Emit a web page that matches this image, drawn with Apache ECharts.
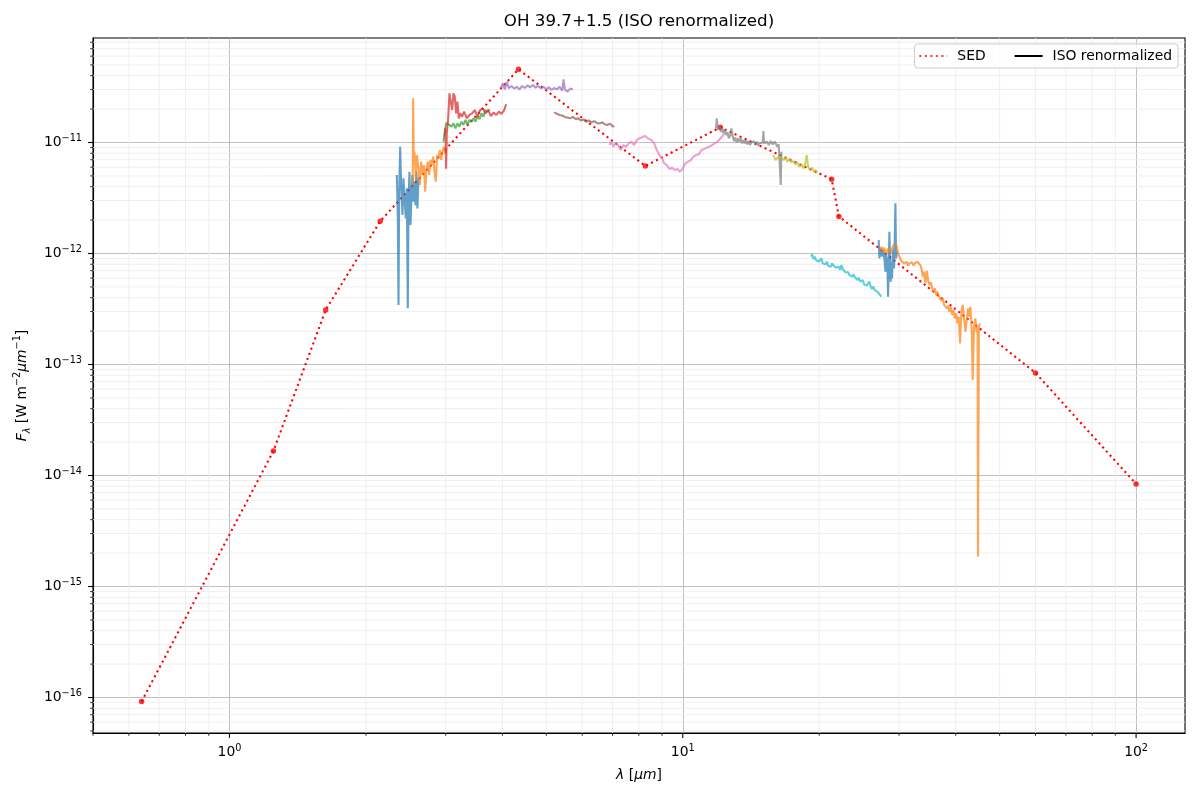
<!DOCTYPE html>
<html><head><meta charset="utf-8">
<script src="https://cdn.jsdelivr.net/npm/echarts@6/dist/echarts.min.js"></script>
<style>html,body{margin:0;padding:0;background:#fff}#c{width:1200px;height:800px}</style>
</head><body><div id="c"></div>
<script>
// ---- SED photometry ----
const sedWave = [0.64, 1.25, 1.63, 2.15, 4.34, 8.27, 12.1, 21.3, 22.1, 60, 100];
const sedFlux = [9.2e-17, 1.66e-14, 3.1e-13, 1.95e-12, 4.57e-11, 6.14e-12, 1.37e-11, 4.67e-12, 2.16e-12, 8.4e-14, 8.4e-15];

// ---- ISO SWS segments [wavelength um, flux] ----
const isoBlue1 = [[2.340,5.10e-12],[2.352,2.07e-12],[2.360,3.44e-13],[2.368,3.37e-12],[2.380,9.17e-12],[2.392,4.14e-12],[2.408,2.22e-12],[2.420,4.75e-12],[2.433,3.14e-12],[2.449,2.07e-12],[2.462,3.87e-12],[2.474,3.21e-13],[2.483,2.93e-12],[2.495,5.46e-12],[2.508,1.81e-12],[2.521,3.37e-12],[2.533,5.10e-12],[2.546,2.93e-12],[2.559,4.44e-12],[2.572,2.73e-12],[2.585,5.46e-12],[2.598,2.55e-12],[2.612,4.75e-12]];
const isoOrange1 = [[2.537,4.14e-12],[2.542,2.50e-11],[2.551,6.27e-12],[2.559,8.27e-12],[2.577,4.75e-12],[2.590,7.72e-12],[2.612,5.85e-12],[2.630,4.14e-12],[2.648,6.72e-12],[2.666,5.10e-12],[2.684,6.27e-12],[2.702,3.61e-12],[2.720,5.85e-12],[2.739,6.72e-12],[2.757,5.10e-12],[2.776,6.96e-12],[2.795,6.27e-12],[2.814,7.46e-12],[2.833,5.46e-12],[2.852,4.44e-12],[2.872,7.72e-12],[2.891,7.20e-12],[2.911,8.56e-12],[2.931,6.96e-12],[2.951,8.27e-12],[2.971,9.17e-12],[2.991,7.99e-12],[3.011,8.50e-12]];
const isoGreen = [[2.966,1.02e-11],[2.985,1.25e-11],[3.006,1.49e-11],[3.026,1.54e-11],[3.057,1.44e-11],[3.089,1.39e-11],[3.120,1.49e-11],[3.151,1.34e-11],[3.184,1.49e-11],[3.216,1.39e-11],[3.249,1.54e-11],[3.282,1.44e-11],[3.316,1.60e-11],[3.350,1.44e-11],[3.384,1.60e-11],[3.419,1.54e-11],[3.454,1.65e-11],[3.489,1.54e-11],[3.525,1.73e-11],[3.561,1.62e-11],[3.597,1.83e-11],[3.634,1.71e-11],[3.671,1.96e-11],[3.709,1.90e-11],[3.747,1.99e-11]];
const isoRed = [[2.985,1.13e-11],[2.996,1.34e-11],[3.005,5.80e-12],[3.016,1.21e-11],[3.037,1.65e-11],[3.057,2.77e-11],[3.078,2.87e-11],[3.099,1.96e-11],[3.120,2.77e-11],[3.141,2.59e-11],[3.162,1.83e-11],[3.184,2.33e-11],[3.205,1.65e-11],[3.227,1.83e-11],[3.260,1.71e-11],[3.293,1.90e-11],[3.338,1.65e-11],[3.384,1.77e-11],[3.430,1.83e-11],[3.477,1.96e-11],[3.525,1.71e-11],[3.573,1.96e-11],[3.622,2.03e-11],[3.671,1.83e-11],[3.722,1.96e-11],[3.773,1.73e-11],[3.824,1.86e-11],[3.877,1.77e-11],[3.930,1.90e-11],[3.981,1.81e-11],[4.036,1.96e-11],[4.077,2.21e-11]];
const isoPurple = [[3.968,3.08e-11],[4.009,3.41e-11],[4.050,3.01e-11],[4.091,3.53e-11],[4.133,3.08e-11],[4.189,3.23e-11],[4.246,3.06e-11],[4.304,3.18e-11],[4.363,3.01e-11],[4.423,3.23e-11],[4.483,3.10e-11],[4.545,3.27e-11],[4.607,3.14e-11],[4.670,3.30e-11],[4.732,3.12e-11],[4.797,3.23e-11],[4.863,3.08e-11],[4.929,3.18e-11],[4.996,3.01e-11],[5.064,3.14e-11],[5.133,2.97e-11],[5.203,3.10e-11],[5.274,3.01e-11],[5.346,3.18e-11],[5.420,2.93e-11],[5.457,3.71e-11],[5.494,3.01e-11],[5.569,2.87e-11],[5.645,3.06e-11],[5.722,3.01e-11]];
const isoBrown = [[5.202,1.87e-11],[5.274,1.82e-11],[5.345,1.77e-11],[5.419,1.75e-11],[5.493,1.70e-11],[5.568,1.68e-11],[5.644,1.65e-11],[5.722,1.70e-11],[5.800,1.63e-11],[5.879,1.65e-11],[5.959,1.58e-11],[6.040,1.61e-11],[6.123,1.54e-11],[6.206,1.58e-11],[6.290,1.52e-11],[6.376,1.56e-11],[6.463,1.50e-11],[6.551,1.48e-11],[6.640,1.52e-11],[6.731,1.46e-11],[6.822,1.44e-11],[6.915,1.48e-11],[7.010,1.39e-11],[7.056,1.42e-11]];
const isoPink = [[6.892,9.49e-12],[6.961,1.02e-11],[7.031,9.17e-12],[7.103,9.83e-12],[7.200,9.49e-12],[7.298,8.56e-12],[7.396,9.49e-12],[7.497,9.17e-12],[7.600,9.83e-12],[7.703,1.02e-11],[7.808,9.49e-12],[7.915,1.05e-11],[8.023,1.09e-11],[8.132,1.11e-11],[8.244,1.15e-11],[8.328,1.17e-11],[8.413,1.08e-11],[8.528,1.05e-11],[8.645,9.83e-12],[8.763,8.56e-12],[8.882,7.71e-12],[9.004,7.19e-12],[9.096,6.48e-12],[9.220,6.26e-12],[9.344,5.77e-12],[9.472,5.93e-12],[9.601,5.65e-12],[9.731,5.77e-12],[9.864,5.46e-12],[9.999,5.85e-12],[10.135,6.48e-12],[10.273,6.71e-12],[10.413,6.95e-12],[10.555,7.45e-12],[10.699,7.71e-12],[10.845,7.82e-12],[10.993,8.56e-12],[11.143,8.73e-12],[11.295,8.98e-12],[11.449,9.17e-12],[11.606,9.49e-12],[11.764,9.83e-12],[11.924,1.02e-11],[12.087,1.08e-11],[12.252,1.15e-11],[12.336,1.19e-11]];
const isoGray = [[11.84,1.34e-11],[11.88,1.65e-11],[11.96,1.30e-11],[12.05,1.42e-11],[12.13,1.25e-11],[12.21,1.34e-11],[12.29,1.21e-11],[12.38,1.32e-11],[12.46,1.17e-11],[12.55,1.24e-11],[12.63,1.09e-11],[12.72,1.15e-11],[12.80,1.34e-11],[12.89,1.13e-11],[12.98,1.03e-11],[13.06,1.11e-11],[13.15,1.00e-11],[13.24,1.09e-11],[13.33,1.02e-11],[13.42,1.09e-11],[13.51,9.83e-12],[13.60,1.05e-11],[13.70,9.83e-12],[13.79,1.05e-11],[13.88,9.62e-12],[13.98,1.03e-11],[14.07,9.49e-12],[14.17,1.00e-11],[14.26,9.62e-12],[14.36,1.03e-11],[14.46,9.49e-12],[14.56,1.02e-11],[14.66,9.36e-12],[14.76,9.83e-12],[14.91,9.62e-12],[15.01,1.00e-11],[15.06,1.27e-11],[15.11,9.83e-12],[15.22,9.49e-12],[15.32,1.02e-11],[15.48,9.49e-12],[15.64,1.03e-11],[15.79,9.62e-12],[15.95,1.02e-11],[16.06,1.05e-11],[16.17,9.17e-12],[16.28,9.62e-12],[16.39,9.36e-12],[16.45,4.14e-12],[16.50,8.27e-12]];
const isoOlive = [[15.85,7.71e-12],[16.01,6.95e-12],[16.17,7.30e-12],[16.33,7.10e-12],[16.50,7.45e-12],[16.67,6.95e-12],[16.84,7.30e-12],[17.01,6.71e-12],[17.19,7.19e-12],[17.36,6.62e-12],[17.54,6.81e-12],[17.72,6.35e-12],[17.90,6.62e-12],[18.08,6.05e-12],[18.27,6.35e-12],[18.45,5.85e-12],[18.64,6.48e-12],[18.77,7.71e-12],[18.90,6.05e-12],[19.09,5.65e-12],[19.29,5.93e-12],[19.48,5.46e-12],[19.68,5.65e-12],[19.75,5.27e-12]];
const isoCyan = [[19.19,9.37e-13],[19.29,9.83e-13],[19.42,8.92e-13],[19.55,9.37e-13],[19.68,8.74e-13],[19.82,9.05e-13],[19.95,8.44e-13],[20.09,8.74e-13],[20.22,9.05e-13],[20.36,8.15e-13],[20.50,8.44e-13],[20.64,7.99e-13],[20.78,8.44e-13],[20.92,7.77e-13],[21.06,7.99e-13],[21.21,7.61e-13],[21.35,8.15e-13],[21.50,7.77e-13],[21.64,7.88e-13],[21.79,7.46e-13],[21.94,7.25e-13],[22.09,7.61e-13],[22.24,7.10e-13],[22.39,7.88e-13],[22.54,7.25e-13],[22.70,6.96e-13],[22.85,6.77e-13],[23.00,6.58e-13],[23.16,6.77e-13],[23.31,6.40e-13],[23.47,6.63e-13],[23.63,6.18e-13],[23.79,6.49e-13],[23.95,6.14e-13],[24.12,5.97e-13],[24.28,5.77e-13],[24.44,6.06e-13],[24.61,5.58e-13],[24.77,5.50e-13],[24.94,5.77e-13],[25.11,5.28e-13],[25.28,5.50e-13],[25.45,5.13e-13],[25.63,5.20e-13],[25.80,5.58e-13],[25.98,5.03e-13],[26.15,4.79e-13],[26.33,5.03e-13],[26.51,4.69e-13],[26.69,4.86e-13],[26.87,4.53e-13],[27.05,4.69e-13],[27.24,4.23e-13],[27.42,4.08e-13]];
const isoBlue2 = [[27.05,1.32e-12],[27.15,9.05e-13],[27.33,1.11e-12],[27.52,9.37e-13],[27.71,1.075e-12],[27.89,8.44e-13],[27.99,6.86e-13],[28.08,1.00e-12],[28.27,8.15e-13],[28.37,4.08e-13],[28.47,7.35e-13],[28.56,1.57e-12],[28.66,9.05e-13],[28.76,5.58e-13],[28.85,8.44e-13],[28.95,5.97e-13],[29.05,9.37e-13],[29.15,1.11e-12],[29.25,7.35e-13],[29.35,1.37e-12],[29.45,2.83e-12],[29.55,9.05e-13],[29.65,1.00e-12],[29.75,1.04e-12]];
const isoOrange2 = [[27.24,1.075e-12],[27.42,1.15e-12],[27.61,1.04e-12],[27.80,1.13e-12],[27.99,1.10e-12],[28.18,1.00e-12],[28.37,1.11e-12],[28.56,1.075e-12],[28.76,1.00e-12],[28.95,1.11e-12],[29.15,1.19e-12],[29.35,1.15e-12],[29.55,1.21e-12],[29.75,1.075e-12],[29.95,9.69e-13],[30.16,9.05e-13],[30.36,8.56e-13],[30.57,8.92e-13],[30.77,8.15e-13],[30.98,7.88e-13],[31.19,8.44e-13],[31.41,7.77e-13],[31.62,8.15e-13],[31.84,7.88e-13],[32.05,8.33e-13],[32.27,7.77e-13],[32.49,8.15e-13],[32.71,7.88e-13],[32.94,8.44e-13],[33.16,8.15e-13],[33.39,7.88e-13],[33.61,7.35e-13],[33.84,6.18e-13],[34.07,6.86e-13],[34.30,5.38e-13],[34.54,6.96e-13],[34.77,5.77e-13],[35.01,5.20e-13],[35.24,5.50e-13],[35.48,4.92e-13],[35.72,4.53e-13],[35.97,4.86e-13],[36.21,4.23e-13],[36.46,4.53e-13],[36.71,4.08e-13],[36.95,4.23e-13],[37.20,3.73e-13],[37.46,3.95e-13],[37.71,3.44e-13],[37.97,3.56e-13],[38.22,3.21e-13],[38.48,3.39e-13],[38.74,2.99e-13],[39.01,3.32e-13],[39.27,2.79e-13],[39.54,3.10e-13],[39.81,2.60e-13],[40.08,2.89e-13],[40.35,2.35e-13],[40.62,2.70e-13],[40.90,1.55e-13],[41.17,2.99e-13],[41.45,3.44e-13],[41.74,2.60e-13],[42.02,1.98e-13],[42.30,2.52e-13],[42.59,3.21e-13],[42.85,2.70e-13],[43.10,3.30e-13],[43.40,2.05e-13],[43.60,7.25e-14],[43.90,2.18e-13],[44.20,2.60e-13],[44.45,1.98e-13],[44.70,2.18e-13],[44.80,1.86e-15],[45.00,2.05e-13],[45.15,2.35e-13]];

const isoSegments = [isoBlue1, isoOrange1, isoGreen, isoRed, isoPurple, isoBrown, isoPink, isoGray, isoOlive, isoCyan, isoBlue2, isoOrange2];
const isoColors = ['#1f77b4','#ff7f0e','#2ca02c','#d62728','#9467bd','#8c564b','#e377c2','#7f7f7f','#bcbd22','#17becf','#1f77b4','#ff7f0e'];

// ---- axis ticks ----
const xMajorTicks = [1, 10, 100];
const yMajorTicks = [1e-16, 1e-15, 1e-14, 1e-13, 1e-12, 1e-11];
const X_MIN = 0.5, X_MAX = 128.2, Y_MIN = 4.79e-17, Y_MAX = 8.74e-11;

const xMinorTicks = [];
[0.1, 1, 10].forEach(d => { for (let k = 2; k <= 9; k++) { const v = k * d; if (v >= X_MIN - 1e-9 && v <= X_MAX) xMinorTicks.push(v); } });
const yMinorTicks = [];
for (let e = -17; e <= -11; e++) { for (let k = 2; k <= 9; k++) { const v = k * Math.pow(10, e); if (v >= Y_MIN && v <= Y_MAX) yMinorTicks.push(v); } }

const FONT = 'DejaVu Sans';
const MINUS = '\u2212';

function powLabel(value) {
  const e = Math.log10(value);
  const r = Math.round(e);
  if (Math.abs(e - r) > 1e-6) return '';
  const s = r < 0 ? MINUS + String(-r) : String(r);
  return '{b|10}{s|' + s + '}';
}
const labelRich = {
  b: { fontFamily: FONT, fontSize: 13.9, lineHeight: 18, color: '#000' },
  s: { fontFamily: FONT, fontSize: 9.7, lineHeight: 10.6, verticalAlign: 'top', color: '#000' }
};

function renderXTick(params, api) {
  const cs = params.coordSys;
  const v = api.value(0);
  const major = api.value(2) === 1;
  const p = api.coord([v, Y_MIN]);
  const x = p[0], top = cs.y, bottom = cs.y + cs.height;
  const ch = [];
  if (!major && x > cs.x + 1.5 && x < cs.x + cs.width - 1.5) {
    ch.push({ type: 'line', shape: { x1: x, y1: top, x2: x, y2: bottom }, style: { stroke: '#ebebeb', lineWidth: 0.8 } });
  }
  ch.push({ type: 'line', shape: { x1: x, y1: bottom, x2: x, y2: bottom + (major ? 4.9 : 2.8) }, style: { stroke: '#000', lineWidth: major ? 1.1 : 0.8 } });
  return { type: 'group', children: ch };
}
function renderYTick(params, api) {
  const cs = params.coordSys;
  const v = api.value(1);
  const major = api.value(2) === 1;
  const p = api.coord([X_MIN, v]);
  const y = p[1], left = cs.x, right = cs.x + cs.width;
  const ch = [];
  if (!major && y > cs.y + 1.5 && y < cs.y + cs.height - 1.5) {
    ch.push({ type: 'line', shape: { x1: left, y1: y, x2: right, y2: y }, style: { stroke: '#ebebeb', lineWidth: 0.8 } });
  }
  ch.push({ type: 'line', shape: { x1: left, y1: y, x2: left - (major ? 4.9 : 2.8), y2: y }, style: { stroke: '#000', lineWidth: major ? 1.1 : 0.8 } });
  return { type: 'group', children: ch };
}

const xTickData = xMinorTicks.map(v => [v, Y_MIN, 0]).concat(xMajorTicks.map(v => [v, Y_MIN, 1]));
const yTickData = yMinorTicks.map(v => [X_MIN, v, 0]).concat(yMajorTicks.map(v => [X_MIN, v, 1]));

const sedData = sedWave.map((w, i) => [w, sedFlux[i]]);

const series = [
  { type: 'custom', name: 'xticks', renderItem: renderXTick, data: xTickData, dimensions: ['x', 'y', 'major'], encode: { x: 0, y: 1 }, z: 1, silent: true, clip: false },
  { type: 'custom', name: 'yticks', renderItem: renderYTick, data: yTickData, dimensions: ['x', 'y', 'major'], encode: { x: 0, y: 1 }, z: 1, silent: true, clip: false },
  { type: 'line', name: 'SED', data: sedData, symbol: 'none', z: 2, silent: true,
    lineStyle: { color: '#ff0000', width: 2.08, type: [2.08, 3.43], cap: 'butt' }, itemStyle: { color: '#ff0000' } },
  { type: 'scatter', name: 'SED points', data: sedData, symbol: 'circle', symbolSize: 5.5, z: 2, silent: true,
    itemStyle: { color: '#ff0000' } },
  { type: 'line', name: 'ISO renormalized', data: [], symbol: 'none',
    lineStyle: { color: '#000000', width: 1.5 }, itemStyle: { color: '#000000' } }
];
isoSegments.forEach((seg, i) => {
  series.push({ type: 'line', name: 'iso' + i, data: seg, symbol: 'none', z: 3, silent: true,
    lineStyle: { color: isoColors[i], width: 2.08, opacity: 0.7 }, itemStyle: { color: isoColors[i] } });
});

const chart = echarts.init(document.getElementById('c'), null, { renderer: 'canvas' });
chart.setOption({
  animation: false,
  backgroundColor: '#ffffff',
  textStyle: { fontFamily: FONT },
  title: {
    text: 'OH 39.7+1.5 (ISO renormalized)', left: 639, top: 12, textAlign: 'center', padding: 0,
    textStyle: { fontFamily: FONT, fontSize: 16.7, fontWeight: 'normal', color: '#000', lineHeight: 20 }
  },
  legend: {
    data: [
      { name: 'SED', itemStyle: { opacity: 0 }, lineStyle: { width: 1.4 } },
      { name: 'ISO renormalized', itemStyle: { opacity: 0 } }
    ],
    right: 22, top: 44, orient: 'horizontal', selectedMode: false,
    itemWidth: 28, itemHeight: 10, itemGap: 28, padding: [4, 6, 4, 4],
    itemStyle: { opacity: 0 },
    backgroundColor: 'rgba(255,255,255,0.8)', borderColor: '#cccccc', borderWidth: 1, borderRadius: 3,
    textStyle: { fontFamily: FONT, fontSize: 13.9, color: '#000', lineHeight: 16, padding: [0, 0, 0, 5] }
  },
  grid: { left: 93, right: 15, top: 38, bottom: 67, show: true, borderColor: '#000', borderWidth: 1.1, backgroundColor: 'transparent', containLabel: false },
  xAxis: {
    type: 'log', logBase: 10, min: X_MIN, max: X_MAX,
    name: '{i|λ} [{i|μm}]', nameLocation: 'middle', nameGap: 32,
    nameTextStyle: { fontFamily: FONT, fontSize: 13.9, color: '#000', lineHeight: 20,
      rich: { i: { fontFamily: FONT, fontSize: 13.9, fontStyle: 'italic', color: '#000', lineHeight: 20 } } },
    axisLine: { show: true, lineStyle: { color: '#000', width: 1.1 } },
    axisTick: { show: false },
    axisLabel: { formatter: powLabel, margin: 10, rich: labelRich },
    splitLine: { show: true, showMinLine: false, showMaxLine: false, lineStyle: { color: '#b0b0b0', width: 0.8 } }
  },
  yAxis: {
    type: 'log', logBase: 10, min: Y_MIN, max: Y_MAX,
    name: '{i|F}{sub|λ} [W m{sup|' + MINUS + '2}{i|μm}{sup|' + MINUS + '1}]', nameLocation: 'middle', nameGap: 61, nameRotate: 90,
    nameTextStyle: { fontFamily: FONT, fontSize: 13.9, color: '#000', lineHeight: 20,
      rich: {
        i: { fontFamily: FONT, fontSize: 13.9, fontStyle: 'italic', color: '#000', lineHeight: 20 },
        sub: { fontFamily: FONT, fontSize: 9.7, fontStyle: 'italic', color: '#000', lineHeight: 12, verticalAlign: 'bottom' },
        sup: { fontFamily: FONT, fontSize: 9.7, color: '#000', lineHeight: 12, verticalAlign: 'top' }
      } },
    axisLine: { show: true, lineStyle: { color: '#000', width: 1.1 } },
    axisTick: { show: false },
    axisLabel: { formatter: powLabel, margin: 11, rich: labelRich },
    splitLine: { show: true, showMinLine: false, showMaxLine: false, lineStyle: { color: '#b0b0b0', width: 0.8 } }
  },
  series: series
});
</script>
</body></html>
